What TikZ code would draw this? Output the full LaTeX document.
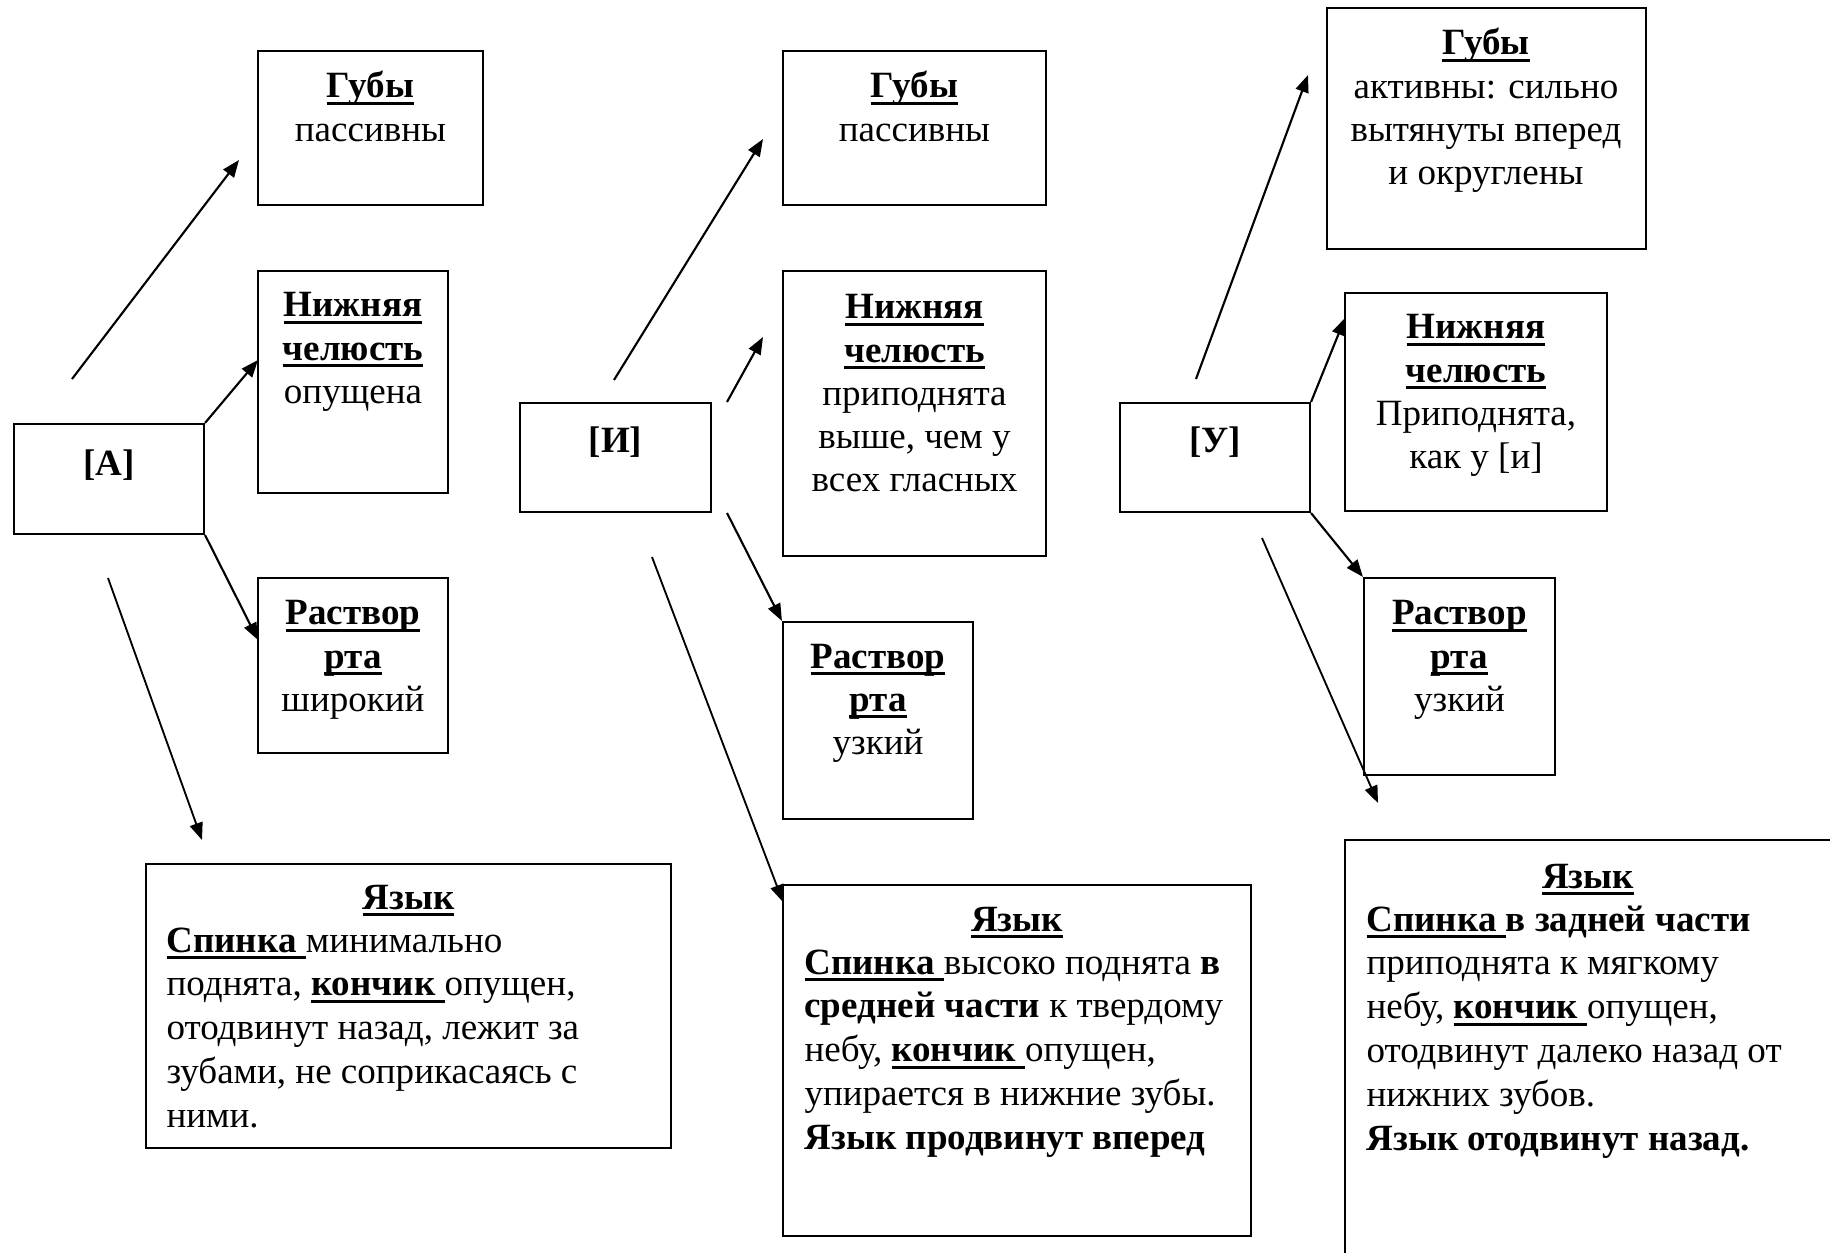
\documentclass[tikz,border=0pt]{standalone}
\usepackage{fontspec}
\setmainfont{Liberation Serif}
\usetikzlibrary{arrows.meta,fit}
\newcommand\ulb[1]{\setbox0\hbox{#1}\rlap{\rule[-2.6pt]{\wd0}{0.95pt}}\box0}
\newcommand\hd[1]{\ulb{\textbf{#1}}}
\begin{document}
\begin{tikzpicture}[x=0.378pt,y=-0.378pt,
  font=\fontsize{14pt}{16.3pt}\selectfont,
  box/.style={draw,line width=0.8pt,inner sep=0pt,rectangle},
  txt/.style={anchor=base,inner sep=0pt},
  txtl/.style={anchor=base west,inner sep=0pt,font=\fontsize{14pt}{16.6pt}\selectfont},
  arr/.style={line width=0.8pt,-{Triangle[length=6.5pt,width=5pt]}},
  larr/.style={line width=0.7pt,-{Triangle[length=6.5pt,width=5pt]}}]
\path[use as bounding box,fill=white] (0,0) rectangle (1830,1253);

% ---------- column A ----------
\node[box,fit={(14,424) (204,534)}] (boxA) {};
\node[txt] (boxA-t) at (109,476) {\textbf{[А]}};
\node[box,fit={(258,51) (483,205)}] (gubyA) {};
\node[txt] (gubyA-t) at (370.5,98) {\begin{tabular}[t]{@{}c@{}}\hd{Губы}\\пассивны\end{tabular}};
\node[box,fit={(258,271) (448,493)}] (nizA) {};
\node[txt] (nizA-t) at (353,317) {\begin{tabular}[t]{@{}c@{}}\hd{Нижняя}\\\hd{челюсть}\\опущена\end{tabular}};
\node[box,fit={(258,578) (448,753)}] (rastA) {};
\node[txt] (rastA-t) at (353,625) {\begin{tabular}[t]{@{}c@{}}\hd{Раствор}\\\hd{рта}\\широкий\end{tabular}};
\node[box,fit={(146,864) (671,1148)}] (yazA) {};
\node[txt] (yazA-h) at (408.5,909) {\hd{Язык}};
\node[txtl] (yazA-t) at (166,952) {\begin{tabular}[t]{@{}l@{}}\hd{Спинка }минимально\\поднята, \hd{кончик }опущен,\\отодвинут назад, лежит за\\зубами, не соприкасаясь с\\ними.\end{tabular}};

\coordinate (a1s) at (72,379);  \coordinate (a1e) at (239,160);
\coordinate (a2e) at (258,360);
\coordinate (a3e) at (258,640);
\coordinate (a4s) at (108,578); \coordinate (a4e) at (202,840);
\draw[arr] (a1s) -- (a1e);
\draw[arr] (boxA.north east) -- (a2e);
\draw[arr] (boxA.south east) -- (a3e);
\draw[larr] (a4s) -- (a4e);

% ---------- column I ----------
\node[box,fit={(520,403) (711,512)}] (boxI) {};
\node[txt] (boxI-t) at (615.5,453) {\textbf{[И]}};
\node[box,fit={(783,51) (1046,205)}] (gubyI) {};
\node[txt] (gubyI-t) at (914.5,98) {\begin{tabular}[t]{@{}c@{}}\hd{Губы}\\пассивны\end{tabular}};
\node[box,fit={(783,271) (1046,556)}] (nizI) {};
\node[txt] (nizI-t) at (914.5,319) {\begin{tabular}[t]{@{}c@{}}\hd{Нижняя}\\\hd{челюсть}\\приподнята\\выше, чем у\\всех гласных\end{tabular}};
\node[box,fit={(783,622) (973,819)}] (rastI) {};
\node[txt] (rastI-t) at (878,668) {\begin{tabular}[t]{@{}c@{}}\hd{Раствор}\\\hd{рта}\\узкий\end{tabular}};
\node[box,fit={(783,885) (1251,1236)}] (yazI) {};
\node[txt] (yazI-h) at (1017,931) {\hd{Язык}};
\node[txtl] (yazI-t) at (804,974) {\begin{tabular}[t]{@{}l@{}}\hd{Спинка }высоко поднята \textbf{в}\\\textbf{средней части} к твердому\\небу, \hd{кончик }опущен,\\упирается в нижние зубы.\\\textbf{Язык продвинут вперед}\end{tabular}};

\coordinate (i1s) at (614,380); \coordinate (i1e) at (763,139);
\coordinate (i2s) at (727,402); \coordinate (i2e) at (763,337);
\coordinate (i3s) at (727,513);
\coordinate (i4s) at (652,557); \coordinate (i4e) at (783,902);
\draw[arr] (i1s) -- (i1e);
\draw[arr] (i2s) -- (i2e);
\draw[arr] (i3s) -- (rastI.north west);
\draw[larr] (i4s) -- (i4e);

% ---------- column U ----------
\node[box,fit={(1120,403) (1310,512)}] (boxU) {};
\node[txt] (boxU-t) at (1215,453) {\textbf{[У]}};
\node[box,fit={(1327,8) (1646,249)}] (gubyU) {};
\node[txt] (gubyU-t) at (1486,55) {\begin{tabular}[t]{@{}c@{}}\hd{Губы}\\активны: сильно\\вытянуты вперед\\и округлены\end{tabular}};
\node[box,fit={(1345,293) (1607,511)}] (nizU) {};
\node[txt] (nizU-t) at (1476,339) {\begin{tabular}[t]{@{}c@{}}\hd{Нижняя}\\\hd{челюсть}\\Приподнята,\\как у [и]\end{tabular}};
\node[box,fit={(1364,578) (1555,775)}] (rastU) {};
\node[txt] (rastU-t) at (1459.5,625) {\begin{tabular}[t]{@{}c@{}}\hd{Раствор}\\\hd{рта}\\узкий\end{tabular}};
\node[box,fit={(1345,840) (1845,1270)}] (yazU) {};
\node[txt] (yazU-h) at (1588,888) {\hd{Язык}};
\node[txtl] (yazU-t) at (1366,931) {\begin{tabular}[t]{@{}l@{}}\hd{Спинка }\textbf{в задней части}\\приподнята к мягкому\\небу, \hd{кончик }опущен,\\отодвинут далеко назад от\\нижних зубов.\\\textbf{Язык отодвинут назад.}\end{tabular}};

\coordinate (u1s) at (1196,379); \coordinate (u1e) at (1308,75);
\coordinate (u2e) at (1345,318);
\coordinate (u4s) at (1262,538); \coordinate (u4e) at (1378,803);
\draw[arr] (u1s) -- (u1e);
\draw[arr] (boxU.north east) -- (u2e);
\draw[arr] (boxU.south east) -- (rastU.north west);
\draw[larr] (u4s) -- (u4e);
\end{tikzpicture}
\end{document}
